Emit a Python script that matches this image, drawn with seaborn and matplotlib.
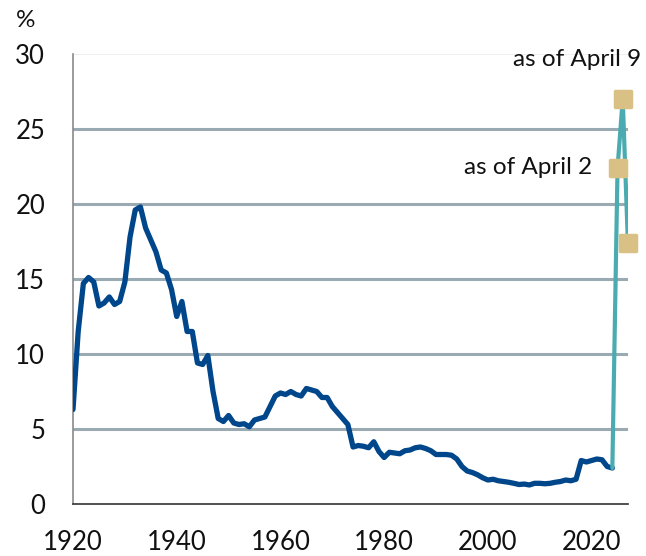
import matplotlib
matplotlib.use("Agg")
import matplotlib.pyplot as plt
import seaborn as sns
import pandas as pd
from matplotlib.markers import MarkerStyle

# annual average tariff rate, %
years = list(range(1920, 2025))
rates = [
    6.3, 11.5, 14.7, 15.1, 14.8, 13.2, 13.4, 13.8, 13.3, 13.5,   # 1920s
    14.8, 17.8, 19.6, 19.8, 18.4, 17.6, 16.8, 15.6, 15.4, 14.3,  # 1930s
    12.5, 13.5, 11.5, 11.5, 9.4, 9.3, 9.9, 7.5, 5.7, 5.5,        # 1940s
    5.9, 5.4, 5.3, 5.35, 5.15, 5.6, 5.7, 5.8, 6.5, 7.2,          # 1950s
    7.4, 7.3, 7.5, 7.3, 7.2, 7.7, 7.6, 7.5, 7.1, 7.1,            # 1960s
    6.5, 6.1, 5.7, 5.3, 3.8, 3.9, 3.85, 3.75, 4.15, 3.5,         # 1970s
    3.1, 3.45, 3.4, 3.35, 3.55, 3.6, 3.75, 3.8, 3.7, 3.55,       # 1980s
    3.3, 3.3, 3.3, 3.25, 3.0, 2.5, 2.2, 2.1, 1.95, 1.75,         # 1990s
    1.6, 1.65, 1.55, 1.5, 1.45, 1.38, 1.3, 1.33, 1.27, 1.38,     # 2000s
    1.38, 1.35, 1.38, 1.45, 1.5, 1.6, 1.55, 1.65, 2.9, 2.8,      # 2010s
    2.9, 3.0, 2.95, 2.5, 2.4,                                    # 2020s
]

# 2025 announcements, plotted at schematic positions after 2024
recent_x = [2024, 2025, 2026, 2027]
recent_rates = [2.4, 22.4, 27.0, 17.4]
recent_labels = ["", "as of April 2", "as of April 9", ""]

y_ticks = [0, 5, 10, 15, 20, 25, 30]
x_ticks = [1920, 1940, 1960, 1980, 2000, 2020]

hist = pd.DataFrame({"year": years, "rate": rates})
recent = pd.DataFrame({"year": recent_x, "rate": recent_rates})

sns.set_style("white")
plt.rcParams["font.family"] = ["Lato", "DejaVu Sans"]

fig = plt.figure(figsize=(6.46, 5.56), dpi=100)
ax = fig.add_axes([0.113, 0.0935, 0.859, 0.8095])

sns.lineplot(data=hist, x="year", y="rate", ax=ax, color="#00468b",
             linewidth=3.8, solid_joinstyle="round", zorder=3)
sns.lineplot(data=recent, x="year", y="rate", ax=ax, color="#4aabb0",
             linewidth=3.0, solid_joinstyle="round", zorder=4)

# square markers on the 2025 points only
sq = MarkerStyle("s", joinstyle="round")
ax.plot(recent["year"][1:], recent["rate"][1:], linestyle="none", marker=sq,
        markersize=11.5, markerfacecolor="#d9c084", markeredgecolor="#d9c084",
        markeredgewidth=2.5, zorder=5, clip_on=False)

ax.text(recent_x[1] - 4.9, recent_rates[1], recent_labels[1], ha="right",
        va="center", fontsize=17.5, color="#111111")
ax.text(recent_x[2] + 3.6, 29.6, recent_labels[2], ha="right",
        va="center", fontsize=17.5, color="#111111")

ax.set_xlim(1920, 2027)
ax.set_ylim(0, 30)
ax.set_yticks(y_ticks)
ax.set_xticks(x_ticks)
ax.set_xlabel("")
ax.set_ylabel("")
ax.tick_params(axis="y", length=0, pad=20, labelsize=18.5, labelcolor="#111111")
ax.tick_params(axis="x", length=0, pad=19, labelsize=18.5, labelcolor="#111111")

ax.grid(axis="y", color="#9aaab3", linewidth=2.2)
ax.grid(axis="x", visible=False)
gl = ax.get_ygridlines()
gl[0].set_visible(False)
gl[-1].set_color("#ececec")
gl[-1].set_linewidth(1.2)
ax.set_axisbelow(True)

for side in ["top", "right"]:
    ax.spines[side].set_visible(False)
ax.spines["left"].set_color("#8a8a8a")
ax.spines["left"].set_linewidth(1.2)
ax.spines["bottom"].set_color("#333333")
ax.spines["bottom"].set_linewidth(1.2)

fig.text(0.024, 0.963, "%", fontsize=17.5, color="#111111", ha="left", va="center")

fig.savefig("out.png", dpi=100)
